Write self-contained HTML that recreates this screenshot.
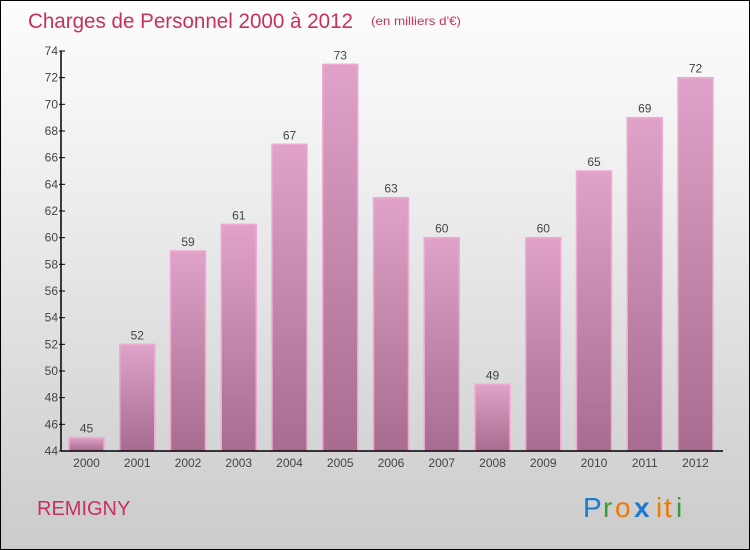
<!DOCTYPE html>
<html><head><meta charset="utf-8"><style>
body{margin:0}
#c{width:750px;height:550px;position:relative;box-sizing:border-box;border:1px solid #000;background:linear-gradient(#fdfdfd,#f0f0f0 30%,#d8d8d8 75%,#cbcbcb);font-family:"Liberation Sans",sans-serif;overflow:hidden}
</style></head><body>
<div id="c">
<svg id="s" width="750" height="550" style="position:absolute;left:0;top:0">
<defs><linearGradient id="g" x1="0" y1="0" x2="0" y2="1"><stop offset="0" stop-color="#e0a2c8"/><stop offset="1" stop-color="#a86c90"/></linearGradient></defs>
<text x="27" y="27" font-size="21" textLength="325" lengthAdjust="spacingAndGlyphs" fill="#c8305e">Charges de Personnel 2000 à 2012</text>
<text x="370" y="24" font-size="12" textLength="90" lengthAdjust="spacingAndGlyphs" fill="#c8305e">(en milliers d'€)</text>
<text x="36" y="514" font-size="20" fill="#c8305e">REMIGNY</text>
<g font-size="28" font-family="Liberation Sans,sans-serif">
<text x="582" y="516" fill="#1a7ad0">P</text><text x="602" y="516" fill="#3a9a3a">r</text><text x="614" y="516" fill="#f07800">o</text><text x="633" y="516" fill="#1a7ad0" font-weight="bold">x</text><text x="655" y="516" fill="#f07800">i</text><text x="663" y="516" fill="#f07800">t</text><text x="675" y="516" fill="#3a9a3a">i</text></g>
<g id="plot"></g>
</svg>
</div>
<script>
const years=["2000","2001","2002","2003","2004","2005","2006","2007","2008","2009","2010","2011","2012"];
const values=[45,52,59,61,67,73,63,60,49,60,65,69,72];
const yTicks=[44,46,48,50,52,54,56,58,60,62,64,66,68,70,72,74];
const ns="http://www.w3.org/2000/svg";
const g=document.getElementById('plot');
const y=v=>450-(v-44)*(400/30);
const x=i=>85.5+i*50.75;
function mk(t,a){const e=document.createElementNS(ns,t);for(const k in a)e.setAttribute(k,a[k]);g.appendChild(e);return e;}
years.forEach((yr,i)=>{
 const r=mk('rect',{x:x(i)-17.5,y:y(values[i]),width:35,height:450-y(values[i]),fill:'url(#g)',stroke:'#eeaad2','stroke-width':1.5});
 
 
 const t=mk('text',{x:x(i),y:y(values[i])-5,'text-anchor':'middle','font-size':12,fill:'#444'});t.textContent=values[i];
 
 
 const l=mk('text',{x:x(i),y:466,'text-anchor':'middle','font-size':12,fill:'#444'});l.textContent=yr;
 
 
});
yTicks.forEach(v=>{
 const tk=mk('line',{x1:58,x2:64,y1:y(v),y2:y(v),stroke:'#000'});
 
 
 const t=mk('text',{x:57,y:y(v)+4,'text-anchor':'end','font-size':12,fill:'#444'});t.textContent=v;
 
 
});
const ya=mk('line',{x1:60,x2:60,y1:50,y2:450,stroke:'#000','stroke-width':1.5});


const xa=mk('line',{x1:60,x2:722,y1:450,y2:450,stroke:'#000','stroke-width':1.5});


</script>
</body></html>
